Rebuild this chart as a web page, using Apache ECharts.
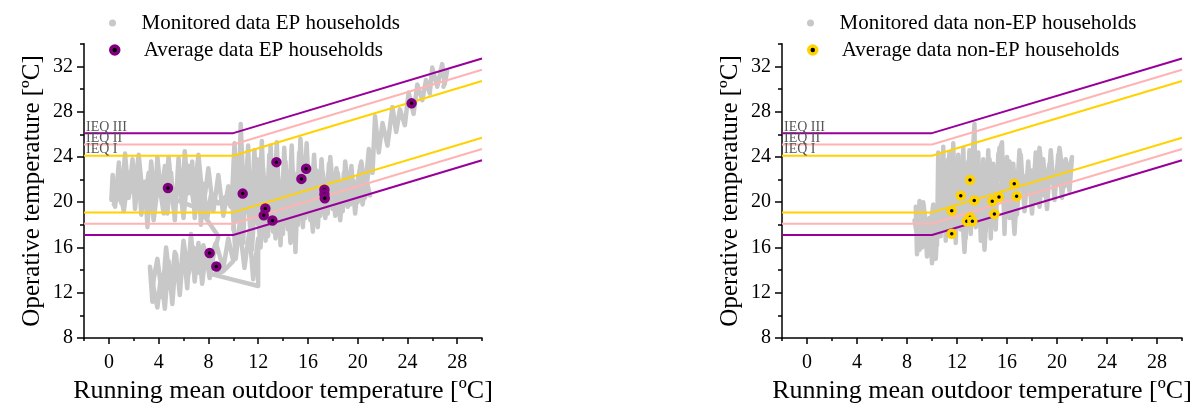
<!DOCTYPE html>
<html>
<head>
<meta charset="utf-8">
<script src="https://cdn.jsdelivr.net/npm/echarts@6/dist/echarts.min.js"></script>
<style>html,body{margin:0;padding:0;background:#fff}#c{width:1200px;height:409px}</style>
</head>
<body>
<div id="c"></div>
<script>
// ---------- data ----------
const xLabelValues = [0, 4, 8, 12, 16, 20, 24, 28];
const xMinorValues = [-2, 2, 6, 10, 14, 18, 22, 26, 30];
const yLabelValues = [8, 12, 16, 20, 24, 28, 32];
const yMinorValues = [10, 14, 18, 22, 26, 30, 34];

// comfort limits (running mean breakpoints)
const trm = [-2, 10, 30];
const upperIII = [26.1, 26.1, 32.7];
const upperII = [25.1, 25.1, 31.7];
const upperI = [24.1, 24.1, 30.7];
const lowerI = [19.1, 19.1, 25.7];
const lowerII = [18.1, 18.1, 24.7];
const lowerIII = [17.1, 17.1, 23.7];
const ieqNames = ['IEQ III', 'IEQ II', 'IEQ I'];

// averages
const epAvg = [[4.75,21.25],[10.76,20.76],[13.47,23.54],[15.48,22.06],[15.86,22.96],[17.33,21.1],[17.33,20.7],[17.36,20.35],[24.34,28.73],[12.58,19.45],[12.45,18.84],[13.15,18.38],[8.1,15.51],[8.64,14.32]];
const nonEpAvg = [[13.04,21.96],[12.3,20.58],[13.38,20.15],[11.58,19.25],[14.82,20.09],[15.36,20.47],[16.58,21.63],[16.77,20.52],[14.99,18.96],[13.04,18.67],[12.78,18.32],[13.23,18.32],[11.58,17.22]];

// monitored traces
const epMonitored = [
[0.2,20.2],[0.3,22.4],[0.5,19.6],[0.8,23.5],[1.0,19.9],[1.3,24.3],[1.6,20.4],[1.9,23.8],[2.1,19.4],[2.4,22.9],[2.6,18.9],[2.9,21.8],[3.1,17.8],[3.4,23.6],[3.7,19.8],[3.9,24.0],[4.2,20.6],[4.5,23.2],[4.7,19.0],[5.0,22.6],[5.3,18.4],[5.6,23.9],[5.9,19.6],[6.1,24.5],[6.4,20.8],[6.7,23.6],[6.9,18.6],[7.2,22.8],[7.4,18.0],[7.6,21.6],[7.9,18.5],[8.2,20.6],[8.8,19.9],[9.4,20.5],[9.8,19.6],
[9.6,21.4],[9.2,18.8],[8.8,22.4],[8.4,19.2],[8.0,23.0],[7.6,19.6],[7.2,24.2],[6.8,20.0],[6.4,23.2],[6.0,18.6],[5.6,22.4],[5.2,19.4],[4.8,24.0],[4.4,19.0],[4.0,22.0],[3.6,18.4],[3.2,22.6],[2.8,19.6],[2.4,24.2],[2.0,20.8],[1.6,22.6],[1.2,19.2],[0.8,21.6],[0.4,19.8],
[1.8,22.0],[3.6,21.2],[5.4,20.2],[7.3,19.4],[8.8,17.0],[8.4,15.2],
[8.1,13.3],[7.8,15.6],[7.5,12.8],[7.2,16.4],[6.9,13.0],[6.6,17.2],[6.3,12.4],[6.0,16.0],[5.7,11.8],[5.4,15.4],[5.1,11.0],[4.8,14.8],[4.5,10.6],[4.2,13.6],[3.9,10.7],[3.6,12.4],[3.3,14.3],[3.5,11.2],
[3.6,13.2],[3.9,15.0],[4.3,11.6],[4.6,16.0],[5.0,12.2],[5.3,15.6],[5.7,12.8],[6.0,16.6],[6.4,13.6],[6.8,16.0],[7.2,13.8],[7.6,16.2],[8.0,14.6],[8.6,16.4],[9.2,14.2],[9.6,16.8],[10.0,14.8],
[9.2,13.9],[8.4,13.6],[10.2,13.1],[12.0,12.6],
[12.0,16.8],[11.6,13.2],[11.3,17.5],[10.9,14.2],[10.5,18.0],[10.2,15.0],[9.9,20.5],[10.1,25.2],[10.4,18.4],[10.6,26.9],[10.9,19.0],[11.2,25.0],[11.4,17.2],[11.7,24.6],[12.0,18.0],[12.3,25.4],[12.6,16.6],[12.9,24.2],[13.2,17.4],[13.5,25.3],[13.8,16.2],[14.1,24.8],[14.4,17.6],[14.7,25.0],[15.0,15.6],[15.3,24.4],[15.6,17.8],[15.9,25.2],[16.2,18.4],[16.5,24.2],[16.8,17.8],[17.1,23.8],[17.4,18.6],[17.7,23.4],[18.0,19.4],[18.3,23.0],[18.6,18.4],[18.9,22.6],[19.2,19.6],[19.5,23.2],[19.8,19.0],[20.1,22.4],[20.4,19.8],[20.7,22.0],[21.0,20.6],
[20.6,21.4],[19.0,20.8],[17.6,21.8],[16.4,20.0],[15.2,22.6],[14.0,19.2],[12.8,22.0],[11.6,20.4],[10.4,22.8],[10.0,17.6],
[10.3,24.0],[10.8,16.4],[11.0,22.6],[11.5,15.8],[11.8,21.2],[12.2,16.0],[12.4,23.0],[12.8,17.0],[13.0,25.0],[13.4,16.8],[13.6,22.4],[14.0,17.2],[14.2,23.6],[14.6,16.4],[14.8,22.8],[15.2,18.0],[15.4,25.6],[15.8,18.6],[16.0,23.4],[16.4,17.4],[16.6,22.2],[17.0,18.8],[17.2,22.6],[17.6,19.0],[17.8,24.0],[18.2,18.8],[18.4,22.6],[18.8,19.2],[19.0,23.6],[19.4,19.8],[19.6,22.0],[20.0,20.0],[20.2,23.2],[20.6,20.4],[20.9,23.0],
[19.6,21.0],[18.4,21.4],[17.0,20.8],[15.6,21.6],[14.4,20.4],[13.0,21.0],[11.8,19.2],[10.6,21.0],[10.2,19.0],
[10.7,23.4],[11.3,19.2],[11.9,23.8],[12.5,19.8],[13.1,23.0],[13.7,18.8],[14.3,22.2],[14.9,18.2],[15.5,23.6],[16.1,19.6],[16.7,22.8],[17.3,20.2],[17.9,22.2],[18.5,20.4],[19.1,21.6],[19.8,20.8],
[20.3,23.6],[20.6,21.0],[20.9,24.7],[21.2,22.6],[21.4,27.6],[21.7,24.4],[22.0,27.0],[22.4,25.0],[22.8,28.4],[23.1,26.2],[23.4,28.2],[23.8,26.8],[24.1,29.7],[24.5,27.8],[24.8,30.4],[25.2,29.0],[25.5,30.8],[25.8,29.6],[26.0,31.9],[26.4,30.2],[26.8,32.2],[27.0,30.4],[27.2,31.6],[26.9,30.2]
];
const nonEpMonitored = [
[8.7,19.6],[8.8,15.4],[9.0,20.1],[9.2,16.0],[9.4,19.0],[9.6,15.2],[9.8,18.6],[10.0,14.6],[10.2,19.4],[10.4,16.2],[10.5,24.4],[10.7,17.0],[10.9,24.9],[11.1,16.6],[11.3,23.8],[11.5,17.4],[11.7,25.2],[11.9,16.4],[12.1,24.2],[12.3,17.6],[12.5,24.8],[12.7,16.8],[12.9,23.6],[13.1,17.2],[13.3,25.0],[13.4,26.9],[13.5,17.8],[13.7,24.4],[13.9,16.6],[14.1,23.8],[14.3,17.4],[14.5,24.6],[14.7,16.8],[14.9,23.4],[15.1,17.6],[15.3,24.2],[15.6,25.3],[15.8,17.2],[16.0,24.0],[16.2,18.6],[16.5,23.4],[16.8,18.9],[17.1,24.2],[17.4,19.2],[17.7,23.6],[18.0,19.0],[18.3,24.4],[18.6,19.6],[18.9,23.8],[19.2,19.4],[19.5,24.6],[19.8,20.2],[20.1,24.2],[20.4,20.4],[20.7,23.8],[21.0,21.0],[21.2,24.0],
[20.8,22.0],[20.0,21.6],[19.0,22.4],[18.0,21.2],[17.0,22.6],[16.0,20.4],[15.0,22.0],[14.0,19.6],[13.0,21.4],[12.0,19.0],[11.0,21.6],[10.2,18.4],[9.4,17.6],
[8.6,18.4],[9.0,15.8],[9.3,20.0],[9.7,16.4],[10.1,19.8],[10.3,15.0],[10.6,22.0],[11.0,17.8],[11.4,24.4],[11.8,18.2],[12.2,23.0],[12.6,15.6],[13.0,24.6],[13.4,18.4],[13.8,22.6],[14.2,15.8],[14.6,23.8],[15.0,18.4],[15.4,24.8],[15.8,18.8],[16.2,23.6],[16.6,17.2],[17.0,24.6],[17.4,20.2],[17.8,22.8],[18.2,20.0],[18.6,24.8],[19.0,20.6],[19.4,23.4],[19.8,21.0],[20.2,24.8],[20.6,21.4],[21.0,23.2],
[19.6,22.2],[18.0,22.8],[16.4,21.2],[14.8,21.0],[13.2,22.6],[11.6,20.4],[10.6,19.2]
];

// ---------- styles ----------
const FONT = 'Liberation Serif';
const C_PURPLE = '#990099', C_PINK = '#FFB3B3', C_YELLOW = '#FFD200', C_GRAY = '#C8C8C8';

function xAxes(gi) {
  return [
    { type: 'value', gridIndex: gi, min: -2, max: 30, position: 'bottom',
      name: 'Running mean outdoor temperature [ºC]', nameLocation: 'middle', nameGap: 34,
      nameTextStyle: { fontFamily: FONT, fontSize: 26, color: '#000' },
      axisLine: { show: true, onZero: false, lineStyle: { color: '#000', width: 1.5 } },
      axisTick: { show: true, inside: false, length: 6, customValues: xLabelValues, lineStyle: { color: '#000', width: 1.5 } },
      axisLabel: { show: true, customValues: xLabelValues, fontFamily: FONT, fontSize: 20, color: '#000', margin: 15 },
      splitLine: { show: false } },
    { type: 'value', gridIndex: gi, min: -2, max: 30, position: 'bottom',
      axisLine: { show: false, onZero: false },
      axisTick: { show: true, length: 3, customValues: xMinorValues, lineStyle: { color: '#000', width: 1.5 } },
      axisLabel: { show: false }, splitLine: { show: false } }
  ];
}
function yAxes(gi) {
  return [
    { type: 'value', gridIndex: gi, min: 8, max: 34, position: 'left',
      name: 'Operative temperature [ºC]', nameLocation: 'middle', nameGap: 39, nameRotate: 90,
      nameTextStyle: { fontFamily: FONT, fontSize: 25, color: '#000' },
      axisLine: { show: true, onZero: false, lineStyle: { color: '#000', width: 1.5 } },
      axisTick: { show: true, length: 7, customValues: yLabelValues, lineStyle: { color: '#000', width: 1.5 } },
      axisLabel: { show: true, customValues: yLabelValues, fontFamily: FONT, fontSize: 20, color: '#000', margin: 11 },
      splitLine: { show: false } },
    { type: 'value', gridIndex: gi, min: 8, max: 34, position: 'left',
      axisLine: { show: false, onZero: false },
      axisTick: { show: true, length: 4, customValues: yMinorValues, lineStyle: { color: '#000', width: 1.5 } },
      axisLabel: { show: false }, splitLine: { show: false } }
  ];
}

function limitSeries(xi, yi, vals, color, label) {
  const data = trm.map((t, i) => {
    const d = { value: [t, vals[i]] };
    if (i === 0 && label) {
      d.label = { show: true, formatter: label, position: 'top', align: 'left', distance: 0, offset: [2, 1],
        fontFamily: FONT, fontSize: 14, color: '#555' };
    }
    return d;
  });
  return { type: 'line', xAxisIndex: xi, yAxisIndex: yi, data, silent: true, z: 3,
    symbol: 'circle', symbolSize: 0.01, showSymbol: true, itemStyle: { color: color },
    lineStyle: { color, width: 2 }, animation: false };
}

function panel(k, monName, avgName, mon, avg, dotColor) {
  const xi = k * 2, yi = k * 2;
  return [
    { name: monName, type: 'line', xAxisIndex: xi, yAxisIndex: yi, data: mon, symbol: 'none', z: 1,
      lineStyle: { color: C_GRAY, width: 4.5, join: 'round', cap: 'round' }, itemStyle: { color: C_GRAY }, animation: false },
    limitSeries(xi, yi, lowerIII, C_PURPLE),
    limitSeries(xi, yi, lowerII, C_PINK),
    limitSeries(xi, yi, lowerI, C_YELLOW),
    limitSeries(xi, yi, upperI, C_YELLOW, ieqNames[2]),
    limitSeries(xi, yi, upperII, C_PINK, ieqNames[1]),
    limitSeries(xi, yi, upperIII, C_PURPLE, ieqNames[0]),
    { name: avgName, type: 'scatter', xAxisIndex: xi, yAxisIndex: yi, data: avg, z: 5,
      symbol: 'circle', symbolSize: 7, itemStyle: { color: '#000', borderColor: dotColor, borderWidth: 3.5, opacity: 1 }, animation: false }
  ];
}

function legends(left, monName, avgName, dotColor) {
  const common = { orient: 'vertical', itemWidth: 48, selectedMode: false, padding: 0,
    textStyle: { fontFamily: FONT, fontSize: 21, color: '#000', lineHeight: 22 } };
  return [
    Object.assign({}, common, { left: left, top: 12, itemHeight: 7,
      data: [{ name: monName, icon: 'circle', itemStyle: { color: C_GRAY } }] }),
    Object.assign({}, common, { left: left, top: 39, itemHeight: 8,
      data: [{ name: avgName, icon: 'circle', itemStyle: { color: '#000', borderColor: dotColor, borderWidth: 3.5 } }] })
  ];
}

const option = {
  backgroundColor: '#fff',
  animation: false,
  grid: [
    { left: 84, top: 43.7, width: 398, height: 299, containLabel: false },
    { left: 782, top: 43.7, width: 400, height: 299, containLabel: false }
  ],
  xAxis: [...xAxes(0), ...xAxes(1)],
  yAxis: [...yAxes(0), ...yAxes(1)],
  legend: [
    ...legends(109, 'Monitored data EP households', 'Average data EP households', '#800080'),
    ...legends(807, 'Monitored data non-EP households', 'Average data non-EP households', '#FFD200')
  ],
  series: [
    ...panel(0, 'Monitored data EP households', 'Average data EP households', epMonitored, epAvg, '#800080'),
    ...panel(1, 'Monitored data non-EP households', 'Average data non-EP households', nonEpMonitored, nonEpAvg, '#FFD200')
  ]
};
const chart = echarts.init(document.getElementById('c'), null, { renderer: 'canvas' });
chart.setOption(option);
</script>
</body>
</html>
